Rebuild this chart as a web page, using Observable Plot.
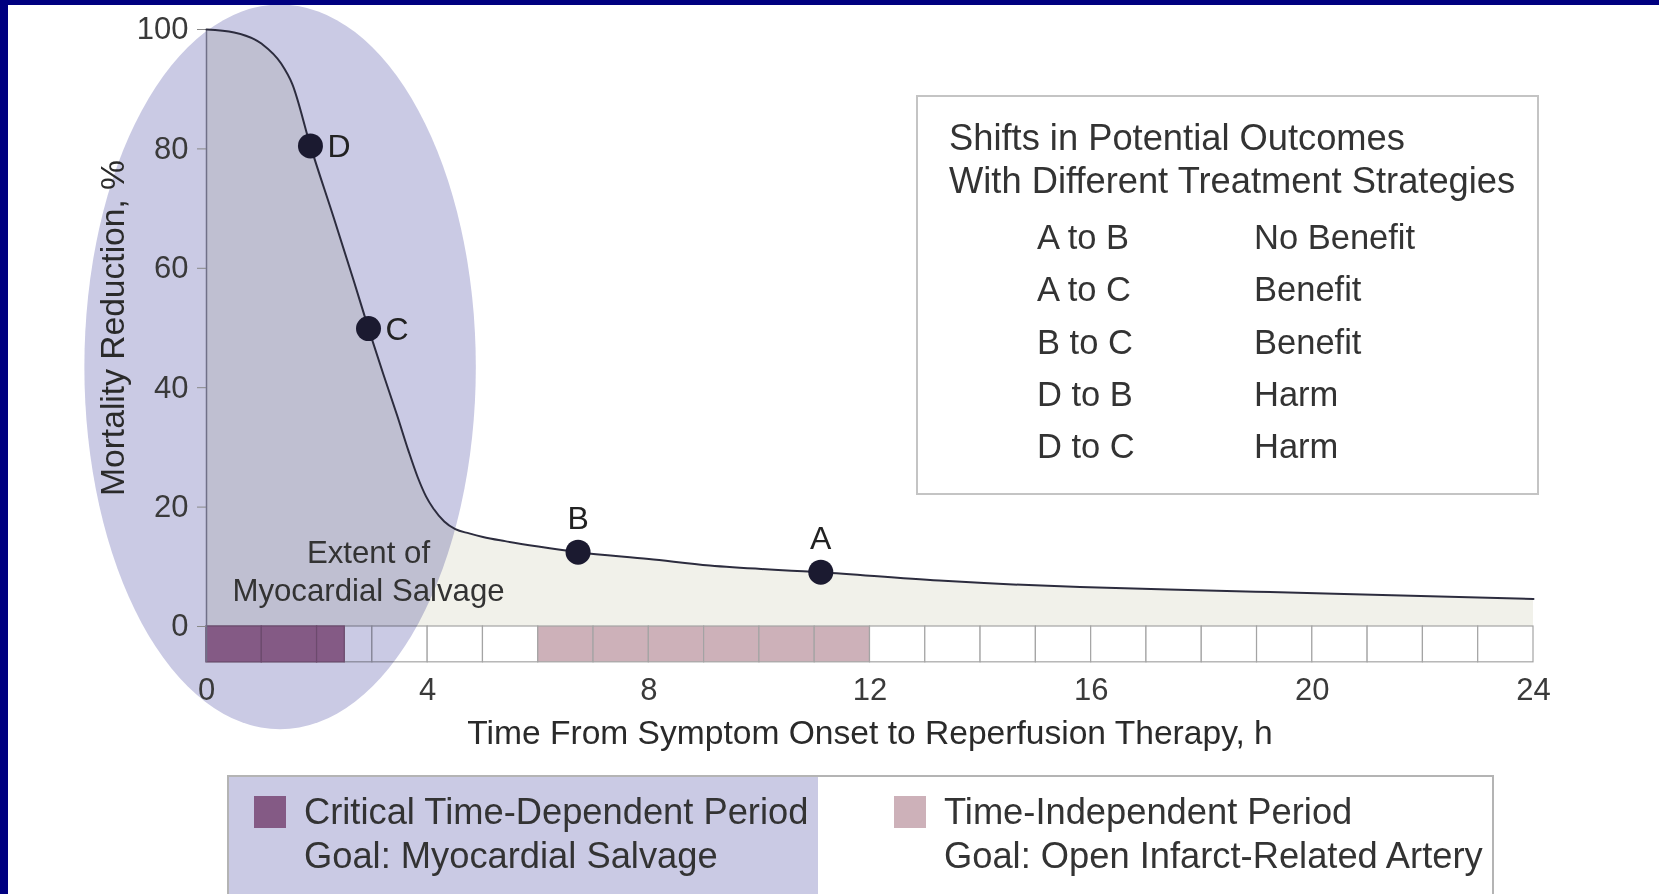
<!DOCTYPE html>
<html>
<head>
<meta charset="utf-8">
<script src="https://cdn.jsdelivr.net/npm/d3@7"></script>
<script src="https://cdn.jsdelivr.net/npm/@observablehq/plot@0.6"></script>
<style>
  html, body { margin: 0; padding: 0; background: #fff; overflow: hidden; }
  #wrap { position: relative; width: 1659px; height: 894px; font-family: "Liberation Sans", Arial, Helvetica, sans-serif; color: #333; }
  #chart svg { display: block; background: #fff; }
  .navy { position: absolute; background: #000080; z-index: 5; }
  #box { position: absolute; left: 916px; top: 95px; width: 619px; height: 396px; border: 2px solid #c4c4c4; box-sizing: content-box; background: #fff; }
  #box .title { position: absolute; left: 31px; top: 20px; font-size: 36.3px; line-height: 42.5px; white-space: nowrap; }
  #box .row { position: absolute; font-size: 34.5px; line-height: 40px; white-space: nowrap; }
  #legend { position: relative; margin-left: 227px; margin-top: 5px; width: 1263px; height: 140px; border: 2px solid #b4b4b4; background: linear-gradient(to right, #cacae4 0px, #cacae4 589px, #fff 589px); }
  #legend .item { position: absolute; top: 13px; }
  #legend .sw { position: absolute; top: 6px; left: 0; width: 32px; height: 32px; }
  #legend .txt { position: absolute; left: 50px; top: 0; font-size: 36.3px; line-height: 44px; white-space: nowrap; }
</style>
</head>
<body>
<div id="wrap">
  <div class="navy" style="left:0;top:0;width:1659px;height:5px"></div>
  <div class="navy" style="left:0;top:0;width:8px;height:894px"></div>
  <div id="chart"></div>
  <div id="legend"></div>
  <div id="box"></div>
</div>
<script>
// ---------- data ----------
const hours     = [0, 0.5, 1.0, 1.35, 1.55, 1.88, 2.3, 2.66, 2.93, 3.2, 3.45, 3.65, 3.82, 3.97, 4.1, 4.3, 4.5, 4.75, 5.0, 5.4, 6.0, 6.72, 8.0, 9.1, 11.11, 13.25, 15.8, 17.4, 20.4, 24];
const reduction = [100, 99.5, 97.6, 94.3, 90.9, 80.5, 68.5, 58.0, 49.9, 42.2, 35.3, 29.5, 25.0, 21.8, 19.8, 17.6, 16.3, 15.6, 15.0, 14.3, 13.4, 12.45, 11.3, 10.2, 9.1, 7.7, 6.6, 6.2, 5.5, 4.6];

const pointLabels = ["D", "C", "B", "A"];
const pointHours  = [1.88, 2.93, 6.72, 11.11];
const pointValues = [80.5, 49.9, 12.45, 9.1];

const cellStart  = [0, 1, 2, 2.5, 3, 4, 5, 6, 7, 8, 9, 10, 11, 12, 13, 14, 15, 16, 17, 18, 19, 20, 21, 22, 23];
const cellEnd    = [1, 2, 2.5, 3, 4, 5, 6, 7, 8, 9, 10, 11, 12, 13, 14, 15, 16, 17, 18, 19, 20, 21, 22, 23, 24];
const cellPeriod = ["critical", "critical", "critical", "none", "none", "none", "none",
                    "independent", "independent", "independent", "independent", "independent", "independent",
                    "none", "none", "none", "none", "none", "none", "none", "none", "none", "none", "none", "none"];

const xTicks = [0, 4, 8, 12, 16, 20, 24];
const yTicks = [0, 20, 40, 60, 80, 100];

const shiftPairs    = ["A to B", "A to C", "B to C", "D to B", "D to C"];
const shiftOutcomes = ["No Benefit", "Benefit", "Benefit", "Harm", "Harm"];

const legendLabels = [["Critical Time-Dependent Period", "Goal: Myocardial Salvage"],
                      ["Time-Independent Period", "Goal: Open Infarct-Related Artery"]];

// ---------- build ----------
const curve = hours.map((h, i) => ({h, v: reduction[i]}));
const points = pointLabels.map((l, i) => ({label: l, h: pointHours[i], v: pointValues[i]}));
const cells = cellStart.map((s, i) => ({s, e: cellEnd[i], p: cellPeriod[i]}));
const cellFill = {critical: "#845a85", independent: "#cdb1b9", none: "#ffffff"};
const FONT = "Liberation Sans, Arial, Helvetica, sans-serif";

// highlight ellipse (annotation, in data units)
const ell = {h: 1.34, v: 43.4, rh: 3.54, rv: 60.7};

function ellipseMark(index, scales, values, dim) {
  let sx = scales && typeof scales.x === "function" ? scales.x : null;
  let sy = scales && typeof scales.y === "function" ? scales.y : null;
  if (!sx) sx = d3.scaleLinear([0, 24], [dim.marginLeft, dim.width - dim.marginRight]);
  if (!sy) sy = d3.scaleLinear([0, 100], [dim.height - dim.marginBottom, dim.marginTop]);
  const cx = sx(ell.h), cy = sy(ell.v);
  const e = d3.create("svg:ellipse")
    .attr("cx", cx).attr("cy", cy)
    .attr("rx", Math.abs(sx(ell.h + ell.rh) - cx))
    .attr("ry", Math.abs(sy(ell.v + ell.rv) - cy))
    .attr("fill", "#cacae4")
    .style("mix-blend-mode", "multiply");
  return e.node();
}

const chart = Plot.plot({
  width: 1659,
  height: 770,
  marginLeft: 206,
  marginRight: 126,
  marginTop: 29,
  marginBottom: 144,
  style: {fontFamily: FONT, color: "#333", background: "#fff", overflow: "visible"},
  x: {domain: [0, 24]},
  y: {domain: [0, 100]},
  marks: [
    Plot.areaY(curve, {x: "h", y: "v", curve: "monotone-x", fill: "#f1f1ea"}),
    Plot.rect(cells, {x1: "s", x2: "e", y1: 0, y2: -6, fill: d => cellFill[d.p], stroke: "#a4a4a4", strokeWidth: 1.2}),
    ellipseMark,
    Plot.rect(cells.filter(d => d.p === "critical"), {x1: "s", x2: "e", y1: 0, y2: -6, fill: d => cellFill[d.p], stroke: "#6c4a6d", strokeWidth: 1.2}),
    Plot.ruleX([0], {y1: -6, y2: 100, stroke: "#707088", strokeWidth: 1.5}),
    Plot.axisY({ticks: yTicks, tickSize: 9, tickPadding: 9, fontSize: 31, stroke: "#888", color: "#3a3a3a", label: null}),
    Plot.axisX({ticks: xTicks, tickSize: 0, tickPadding: 51, fontSize: 31, color: "#3a3a3a", label: null}),
    Plot.line(curve, {x: "h", y: "v", curve: "monotone-x", stroke: "#2c2c3e", strokeWidth: 2}),
    Plot.dot(points, {x: "h", y: "v", r: 12.5, fill: "#1b1a30", stroke: "none"}),
    Plot.text(points.filter(d => d.label === "D" || d.label === "C"), {x: "h", y: "v", text: "label", textAnchor: "start", dx: 17, dy: 1, fontSize: 32, fill: "#222"}),
    Plot.text(points.filter(d => d.label === "B" || d.label === "A"), {x: "h", y: "v", text: "label", dy: -33, fontSize: 32, fill: "#222"}),
    Plot.text(["Extent of\nMyocardial Salvage"], {x: 2.93, y: 9.46, lineHeight: 1.2, fontSize: 31.2, fill: "#333"}),
    Plot.text(["Time From Symptom Onset to Reperfusion Therapy, h"], {frameAnchor: "bottom", dy: 117, fontSize: 33.6, fill: "#2a2a2a"}),
    Plot.text(["Mortality Reduction, %"], {frameAnchor: "left", textAnchor: "middle", dx: -93, rotate: -90, fontSize: 33.6, fill: "#2a2a2a"})
  ]
});
document.getElementById("chart").appendChild(chart);

// ---------- outcomes box ----------
const box = document.getElementById("box");
const t = document.createElement("div");
t.className = "title";
t.innerHTML = "Shifts in Potential Outcomes<br>With Different Treatment Strategies";
box.appendChild(t);
shiftPairs.forEach((p, i) => {
  const top = 120 + i * 52.3;
  const a = document.createElement("div");
  a.className = "row"; a.style.left = "119px"; a.style.top = top + "px"; a.textContent = p;
  const b = document.createElement("div");
  b.className = "row"; b.style.left = "336px"; b.style.top = top + "px"; b.textContent = shiftOutcomes[i];
  box.appendChild(a); box.appendChild(b);
});

// ---------- legend ----------
const legend = document.getElementById("legend");
const swatchColors = [cellFill.critical, cellFill.independent];
const legendLeft = [25, 665];
legendLabels.forEach((lines, i) => {
  const it = document.createElement("div");
  it.className = "item"; it.style.left = legendLeft[i] + "px";
  const sw = document.createElement("div");
  sw.className = "sw"; sw.style.background = swatchColors[i];
  const tx = document.createElement("div");
  tx.className = "txt"; tx.innerHTML = lines.join("<br>");
  it.appendChild(sw); it.appendChild(tx);
  legend.appendChild(it);
});
</script>
</body>
</html>
